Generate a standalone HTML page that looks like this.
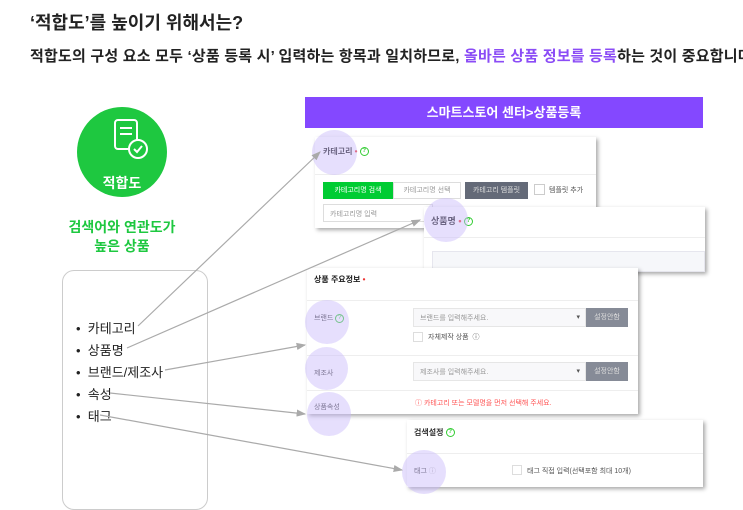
<!DOCTYPE html><html><head><meta charset="utf-8"><style>
*{margin:0;padding:0;box-sizing:border-box}
body{width:743px;height:498px;overflow:hidden;background:#fff;font-family:"Liberation Sans","Noto Sans CJK KR",sans-serif;position:relative;color:#222}
.a{position:absolute;white-space:nowrap}
.card{position:absolute;background:#fff;box-shadow:2px 2px 4px rgba(0,0,0,.35)}
.hl{position:absolute;border-radius:50%;background:rgba(200,185,250,.45)}
.s{font-size:8px;color:#999}
.q{display:inline-block;width:9px;height:9px;border:1px solid #3c3;border-radius:50%;font-size:6px;color:#3c3;text-align:center;line-height:7px;vertical-align:middle}
</style></head><body>
<div class="a" style="left:30px;top:9px;font-size:18px;font-weight:bold">‘적합도’를 높이기 위해서는?</div>
<div class="a" style="left:30px;top:45px;font-size:15px;font-weight:bold;letter-spacing:0.2px">적합도의 구성 요소 모두 ‘상품 등록 시’ 입력하는 항목과 일치하므로, <span style="color:#8b4cf6">올바른 상품 정보를 등록</span>하는 것이 중요합니다</div>
<div class="a" style="left:77px;top:107px;width:90px;height:90px;border-radius:50%;background:#1ec840"></div>
<svg class="a" style="left:110px;top:117px" width="50" height="50"><rect x="5" y="3" width="22" height="29" rx="3" fill="none" stroke="#fff" stroke-width="2"/><line x1="10" y1="11" x2="22" y2="11" stroke="#fff" stroke-width="2"/><line x1="10" y1="17" x2="22" y2="17" stroke="#fff" stroke-width="2"/><circle cx="28" cy="32" r="9" fill="#1ec840" stroke="#fff" stroke-width="2"/><path d="M24 32l3 3 5-6" fill="none" stroke="#fff" stroke-width="2"/></svg>
<div class="a" style="left:77px;top:173px;width:90px;text-align:center;color:#fff;font-weight:bold;font-size:14px">적합도</div>
<div class="a" style="left:62px;top:218px;width:120px;text-align:center;color:#1ec840;font-weight:bold;font-size:14px;line-height:19px">검색어와 연관도가<br>높은 상품</div>
<div class="a" style="left:62px;top:270px;width:146px;height:240px;border:1px solid #ccc;border-radius:12px"></div>
<div class="a" style="left:76px;top:318px;font-size:13px;line-height:22px">•&nbsp;&nbsp;카테고리<br>•&nbsp;&nbsp;상품명<br>•&nbsp;&nbsp;브랜드/제조사<br>•&nbsp;&nbsp;속성<br>•&nbsp;&nbsp;태그</div>
<div class="a" style="left:305px;top:97px;width:398px;height:31px;background:#8448ff;color:#fff;text-align:center;font-size:13px;font-weight:bold;line-height:31px">스마트스토어 센터&gt;상품등록</div>
<div class="card" style="left:315px;top:137px;width:281px;height:91px">
<div class="a" style="left:8px;top:9px;font-size:8px;font-weight:bold">카테고리 <span style="color:#e33">•</span> <span class="q">?</span></div>
<div class="a" style="left:0;top:37px;width:281px;border-top:1px solid #eee"></div>
<div class="a" style="left:8px;top:45px;width:70px;height:17px;background:#0c3;color:#fff;font-size:7px;text-align:center;line-height:17px">카테고리명 검색</div>
<div class="a s" style="left:78px;top:45px;width:68px;height:17px;border:1px solid #ddd;font-size:7px;text-align:center;line-height:15px">카테고리명 선택</div>
<div class="a" style="left:150px;top:45px;width:63px;height:17px;background:#646a78;color:#ddd;font-size:7px;text-align:center;line-height:17px">카테고리 템플릿</div>
<div class="a" style="left:219px;top:47px;width:11px;height:11px;border:1px solid #ccc"></div>
<div class="a" style="left:234px;top:48px;font-size:7px;color:#555">템플릿 추가</div>
<div class="a s" style="left:8px;top:67px;width:110px;height:18px;border:1px solid #ddd;font-size:7px;padding:4px 6px">카테고리명 입력</div>
</div>
<div class="hl" style="left:312px;top:130px;width:45px;height:45px"></div>
<div class="card" style="left:424px;top:207px;width:281px;height:65px">
<div class="a" style="left:7px;top:7px;font-size:9px;font-weight:bold">상품명 <span style="color:#e33">•</span> <span class="q">?</span></div>
<div class="a" style="left:0;top:30px;width:281px;border-top:1px solid #eee"></div>
<div class="a" style="left:8px;top:44px;width:273px;height:21px;background:#f6f7fa;border:1px solid #e6e6ee"></div>
</div>
<div class="hl" style="left:424px;top:198px;width:44px;height:44px"></div>
<div class="card" style="left:307px;top:268px;width:331px;height:146px">
<div class="a" style="left:7px;top:6px;font-size:8px;font-weight:bold">상품 주요정보 <span style="color:#e33">•</span></div>
<div class="a" style="left:0;top:32px;width:331px;border-top:1px solid #eee"></div>
<div class="a" style="left:7px;top:45px;font-size:7px;color:#444">브랜드 <span class="q">?</span></div>
<div class="a s" style="left:106px;top:40px;width:173px;height:19px;background:#f8f8fa;border:1px solid #e6e6e6;font-size:7px;padding:4px 6px">브랜드를 입력해주세요.<span style="position:absolute;right:5px;color:#555">▾</span></div>
<div class="a" style="left:279px;top:40px;width:42px;height:19px;background:#868b97;color:#ddd;font-size:7px;text-align:center;line-height:19px">설정안함</div>
<div class="a" style="left:106px;top:64px;width:10px;height:10px;border:1px solid #ddd"></div>
<div class="a" style="left:121px;top:64px;font-size:7px;color:#555">자체제작 상품 &nbsp;ⓘ</div>
<div class="a" style="left:0;top:87px;width:331px;border-top:1px solid #eee"></div>
<div class="a" style="left:7px;top:100px;font-size:7px;color:#444">제조사</div>
<div class="a s" style="left:106px;top:94px;width:173px;height:19px;background:#f8f8fa;border:1px solid #e6e6e6;font-size:7px;padding:4px 6px">제조사를 입력해주세요.<span style="position:absolute;right:5px;color:#555">▾</span></div>
<div class="a" style="left:279px;top:94px;width:42px;height:19px;background:#868b97;color:#ddd;font-size:7px;text-align:center;line-height:19px">설정안함</div>
<div class="a" style="left:0;top:122px;width:331px;border-top:1px solid #eee"></div>
<div class="a" style="left:7px;top:134px;font-size:7px;color:#444">상품속성</div>
<div class="a" style="left:108px;top:130px;font-size:7px;color:#f55">ⓘ 카테고리 또는 모델명을 먼저 선택해 주세요.</div>
</div>
<div class="hl" style="left:305px;top:300px;width:44px;height:44px"></div>
<div class="hl" style="left:305px;top:347px;width:43px;height:43px"></div>
<div class="hl" style="left:307px;top:392px;width:44px;height:44px"></div>
<div class="card" style="left:407px;top:420px;width:296px;height:67px">
<div class="a" style="left:7px;top:7px;font-size:8px;font-weight:bold;color:#333">검색설정 <span class="q">?</span></div>
<div class="a" style="left:0;top:33px;width:296px;border-top:1px solid #eee"></div>
<div class="a" style="left:7px;top:46px;font-size:7px;color:#444">태그 <span style="color:#aaa">ⓘ</span></div>
<div class="a" style="left:105px;top:45px;width:10px;height:10px;border:1px solid #ddd"></div>
<div class="a" style="left:120px;top:46px;font-size:7px;color:#555">태그 직접 입력(선택포함 최대 10개)</div>
</div>
<div class="hl" style="left:402px;top:450px;width:44px;height:44px"></div>
<svg class="a" style="left:0;top:0" width="743" height="498"><defs><marker id="m" markerWidth="8" markerHeight="8" refX="7" refY="4" orient="auto"><path d="M0,1L8,4L0,7z" fill="#aaa"/></marker></defs>
<g stroke="#aaa" stroke-width="1.2" fill="none" marker-end="url(#m)">
<line x1="138" y1="326" x2="320" y2="152"/>
<line x1="127" y1="348" x2="420" y2="220"/>
<line x1="165" y1="370" x2="305" y2="345"/>
<line x1="110" y1="393" x2="305" y2="414"/>
<line x1="100" y1="415" x2="402" y2="470"/>
</g></svg>
</body></html>
